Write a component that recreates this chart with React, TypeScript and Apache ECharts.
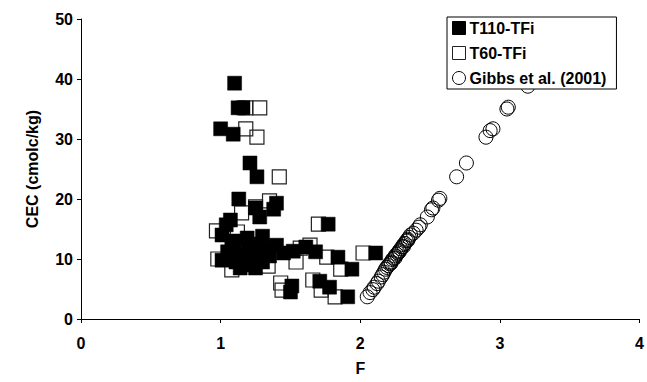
import React, { useEffect, useRef } from "react";
import * as echarts from "echarts";

const FONT = "'Liberation Sans', Arial, sans-serif";

const seriesNames = ["T110-TFi", "T60-TFi", "Gibbs et al. (2001)"];

const t110: number[][] = [
  [1.10, 39.3], [1.125, 35.2], [1.16, 35.2], [1.00, 31.7], [1.09, 30.8],
  [1.21, 26.0], [1.26, 23.7], [1.13, 20.0], [1.25, 18.5], [1.40, 19.3],
  [1.38, 18.3], [1.28, 17.0], [1.07, 16.5], [1.04, 15.7], [1.01, 14.0],
  [1.19, 13.5], [1.30, 13.8], [1.10, 13.0], [1.40, 12.3], [1.52, 11.3],
  [1.05, 11.2], [1.14, 10.7], [1.23, 10.2], [1.30, 9.5], [1.11, 9.5],
  [1.01, 9.8], [1.14, 8.5], [1.25, 8.5], [1.35, 10.5], [1.45, 11.0],
  [1.20, 11.8], [1.08, 12.2], [1.61, 12.0], [1.68, 11.2], [1.51, 5.5],
  [1.50, 4.5], [1.77, 15.8], [1.84, 10.3], [1.94, 8.3], [2.11, 11.0],
  [1.71, 6.3], [1.78, 5.3], [1.91, 3.7], [1.32, 11.8], [1.17, 9.0],
  [1.28, 12.5],
];

const t60: number[][] = [
  [1.18, 35.2], [1.28, 35.2], [1.18, 31.7], [1.26, 30.3], [1.42, 23.7],
  [1.35, 19.7], [1.25, 18.7], [1.15, 17.7], [0.97, 14.7], [0.98, 10.0],
  [1.08, 8.2], [1.34, 8.8], [1.54, 9.5], [1.43, 6.0], [1.44, 4.8],
  [1.57, 11.8], [1.64, 12.3], [1.70, 15.8], [1.76, 10.3], [1.86, 8.3],
  [2.02, 11.0], [1.66, 6.5], [1.72, 4.8], [1.82, 3.7], [1.12, 14.5],
  [1.22, 9.2],
];

const gibbs: number[][] = [
  [2.05, 3.7], [2.07, 4.4], [2.09, 4.9], [2.10, 5.3], [2.12, 5.9],
  [2.13, 6.3], [2.15, 7.0], [2.16, 7.4], [2.17, 7.8], [2.18, 8.3],
  [2.19, 8.6], [2.20, 8.9], [2.21, 9.2], [2.22, 9.5], [2.23, 9.9],
  [2.24, 10.1], [2.25, 10.5], [2.26, 10.8], [2.27, 11.0], [2.28, 11.4],
  [2.29, 11.7], [2.30, 12.0], [2.31, 12.4], [2.32, 12.6], [2.33, 13.0],
  [2.34, 13.3], [2.35, 13.6], [2.36, 14.0], [2.38, 14.3], [2.40, 14.8],
  [2.42, 15.3], [2.43, 15.7], [2.22, 9.3], [2.25, 10.2], [2.28, 11.2],
  [2.31, 12.1], [2.34, 13.1], [2.48, 17.0], [2.51, 18.2], [2.52, 18.5],
  [2.56, 19.8], [2.57, 20.1], [2.69, 23.7], [2.76, 26.0], [2.90, 30.3],
  [2.93, 31.4], [2.95, 31.7], [3.05, 35.0], [3.06, 35.3], [3.20, 38.8],
];

const xMin = 0, xMax = 4, xStep = 1;
const yMin = 0, yMax = 50, yStep = 10;

export default function App() {
  const ref = useRef<HTMLDivElement>(null);
  useEffect(() => {
    if (!ref.current) return;
    const chart = echarts.init(ref.current, undefined, { renderer: "svg" });
    const axisText = { color: "#000", fontWeight: "bold" as const, fontSize: 16, fontFamily: FONT };
    chart.setOption({
      animation: false,
      backgroundColor: "#fff",
      grid: { left: 81, right: 7, top: 19, bottom: 63, containLabel: false },
      legend: {
        orient: "vertical",
        left: 447,
        top: 17,
        data: seriesNames,
        backgroundColor: "#fff",
        borderColor: "#000",
        borderWidth: 1,
        borderRadius: 0,
        padding: [3, 10, 3, 5],
        itemGap: 9,
        itemWidth: 13,
        itemHeight: 13,
        itemStyle: { borderWidth: 1 },
        textStyle: { ...axisText, padding: [0, 0, 0, -1] },
        z: 10,
      },
      xAxis: {
        type: "value",
        min: xMin,
        max: xMax,
        interval: xStep,
        name: "F",
        nameLocation: "middle",
        nameGap: 41,
        nameTextStyle: axisText,
        axisLine: { show: true, onZero: false, lineStyle: { color: "#000", width: 1 } },
        axisTick: { show: true, length: 4, lineStyle: { color: "#000" } },
        axisLabel: { ...axisText, margin: 16 },
        splitLine: { show: false },
      },
      yAxis: {
        type: "value",
        min: yMin,
        max: yMax,
        interval: yStep,
        name: "CEC (cmolc/kg)",
        nameLocation: "middle",
        nameGap: 41,
        nameRotate: 90,
        nameTextStyle: axisText,
        axisLine: { show: true, onZero: false, lineStyle: { color: "#000", width: 1 } },
        axisTick: { show: true, length: 4, lineStyle: { color: "#000" } },
        axisLabel: { ...axisText, margin: 8 },
        splitLine: { show: false },
      },
      series: [
        {
          name: seriesNames[0],
          type: "scatter",
          symbol: "rect",
          symbolSize: 14,
          data: t110,
          z: 4,
          itemStyle: { color: "#000", borderColor: "#000", borderWidth: 0.5, opacity: 1 },
        },
        {
          name: seriesNames[1],
          type: "scatter",
          symbol: "rect",
          symbolSize: 14,
          data: t60,
          z: 3,
          itemStyle: { color: "rgba(255,255,255,0)", borderColor: "#222", borderWidth: 1.2, opacity: 1 },
        },
        {
          name: seriesNames[2],
          type: "scatter",
          symbol: "circle",
          symbolSize: 14,
          data: gibbs,
          z: 5,
          itemStyle: { color: "rgba(255,255,255,0)", borderColor: "#000", borderWidth: 1, opacity: 1 },
        },
      ],
    });
    return () => chart.dispose();
  }, []);
  return (
    <div
      ref={ref}
      style={{ position: "absolute", left: 0, top: 0, width: 647, height: 382 }}
    />
  );
}
